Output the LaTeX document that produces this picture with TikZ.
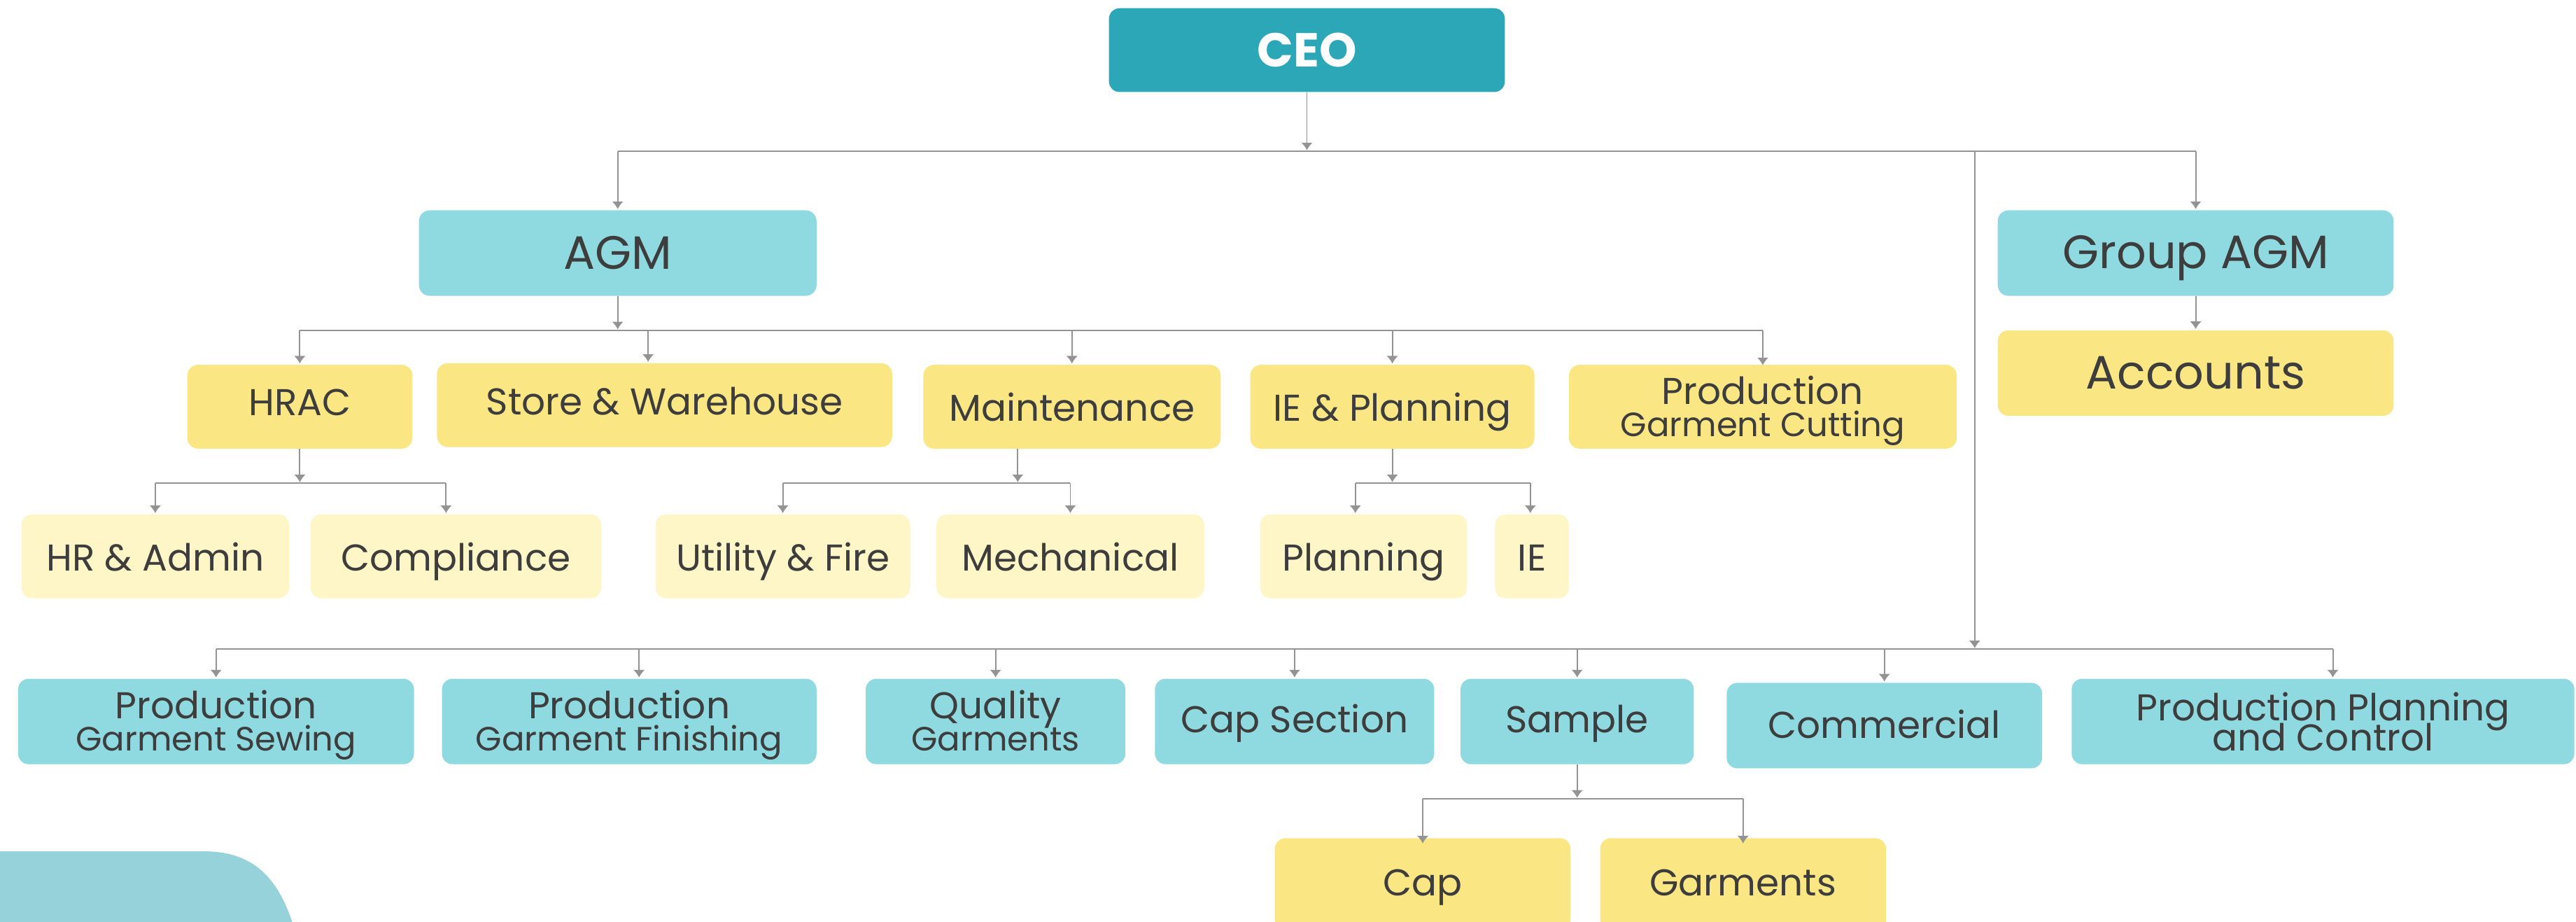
\documentclass[tikz,border=0pt]{standalone}
\usepackage{fontspec}
\setmainfont{Poppins}
\usetikzlibrary{arrows.meta}
\definecolor{ceoc}{HTML}{2CA7B7}
\definecolor{lteal}{HTML}{8FDAE0}
\definecolor{yel}{HTML}{FAE784}
\definecolor{pyel}{HTML}{FEF6C6}
\definecolor{deco}{HTML}{96D2D9}
\definecolor{txt}{HTML}{3D3D3D}
\definecolor{lnc}{HTML}{939393}
\begin{document}
\begin{tikzpicture}[x=1pt,y=-1pt,
  box/.style={rounded corners=6.5pt, inner sep=0pt, text=txt, align=center, font=\fontsize{22.7}{24}\selectfont},
  bl/.style={text height=#1, text depth=4pt},
  tl/.style={box, fill=lteal},
  yl/.style={box, fill=yel},
  py/.style={box, fill=pyel},
  big/.style={font=\fontsize{28.5}{30}\selectfont},
  lbl/.style={inner sep=0pt, text=txt, anchor=base, font=\fontsize{22.7}{24}\selectfont},
  sublbl/.style={lbl, font=\fontsize{20.5}{21}\selectfont},
  ln/.style={draw=lnc, line width=0.8pt},
  arr/.style={ln, -{Latex[length=4.6pt,width=7pt]}, shorten >=0.6pt}]
\useasboundingbox (0,0) rectangle (1568,561);
\fill[deco] (0,518) -- (124,518) .. controls (156,518) and (172,536) .. (181,572) -- (184,580) -- (0,580) -- cycle;

% nodes
\node[box, bl=24.2pt, fill=ceoc, text=white, font=\fontsize{29}{30}\selectfont\bfseries, minimum width=241pt, minimum height=51pt] (ceo) at (795.5,30.5) {CEO};
\node[tl, bl=24pt, big, minimum width=242pt, minimum height=52pt] (agm) at (376,154) {AGM};
\node[tl, bl=22.4pt, big, minimum width=241pt, minimum height=52pt] (gagm) at (1336.5,154) {Group AGM};
\node[yl, bl=23.4pt, big, minimum width=241pt, minimum height=52pt] (acc) at (1336.5,227) {Accounts};

\node[yl, bl=14.6pt, minimum width=137pt, minimum height=51pt] (hrac) at (182.5,247.5) {HRAC};
\node[yl, bl=16.2pt, minimum width=277pt, minimum height=51pt] (store) at (404.5,246.5) {Store \& Warehouse};
\node[yl, bl=21.8pt, minimum width=181pt, minimum height=51pt] (maint) at (652.5,247.5) {Maintenance};
\node[yl, bl=21.8pt, minimum width=173pt, minimum height=51pt] (iep) at (847.5,247.5) {IE \& Planning};
\node[yl, minimum width=236pt, minimum height=51pt] (pgc) at (1073,247.5) {};
\node[lbl] (pgcA) at ([yshift=1.5pt]pgc.center) {Production};
\node[sublbl] (pgcB) at ([yshift=-18.2pt]pgc.center) {Garment Cutting};

\node[py, bl=22pt, minimum width=163pt, minimum height=51pt] (hra) at (94.5,338.5) {HR \& Admin};
\node[py, bl=22pt, minimum width=177pt, minimum height=51pt] (comp) at (277.5,338.5) {Compliance};
\node[py, bl=22pt, minimum width=155pt, minimum height=51pt] (util) at (476.5,338.5) {Utility \& Fire};
\node[py, bl=22pt, minimum width=163pt, minimum height=51pt] (mech) at (651.5,338.5) {Mechanical};
\node[py, bl=22pt, minimum width=126pt, minimum height=51pt] (plan) at (830,338.5) {Planning};
\node[py, bl=22pt, minimum width=45pt, minimum height=51pt] (ie) at (932.5,338.5) {IE};

\node[tl, minimum width=241pt, minimum height=52pt] (pgs) at (131.5,439) {};
\node[lbl] (pgsA) at ([yshift=1.8pt]pgs.center) {Production};
\node[sublbl] (pgsB) at ([yshift=-18pt]pgs.center) {Garment Sewing};
\node[tl, minimum width=228pt, minimum height=52pt] (pgf) at (383,439) {};
\node[lbl] (pgfA) at ([yshift=1.8pt]pgf.center) {Production};
\node[sublbl] (pgfB) at ([yshift=-18pt]pgf.center) {Garment Finishing};
\node[tl, minimum width=158pt, minimum height=52pt] (qg) at (606,439) {};
\node[lbl] (qgA) at ([yshift=1.8pt]qg.center) {Quality};
\node[sublbl] (qgB) at ([yshift=-18pt]qg.center) {Garments};
\node[tl, bl=17.4pt, minimum width=170pt, minimum height=52pt] (caps) at (788,439) {Cap Section};
\node[tl, bl=17.4pt, minimum width=142pt, minimum height=52pt] (samp) at (960,439) {Sample};
\node[tl, bl=19pt, minimum width=192pt, minimum height=52pt] (comm) at (1147,441.5) {Commercial};
\node[tl, minimum width=306pt, minimum height=52pt] (ppc) at (1414,439) {};
\node[lbl] (ppcA) at ([yshift=0.4pt]ppc.center) {Production Planning};
\node[lbl] (ppcB) at ([yshift=-17.7pt]ppc.center) {and Control};

\node[yl, bl=18pt, minimum width=180pt, minimum height=56pt] (cap) at (866,538) {Cap};
\node[yl, bl=18pt, minimum width=174pt, minimum height=56pt] (garm) at (1061,538) {Garments};

% bus coordinates
\coordinate (b1) at (0,92);
\coordinate (b2) at (0,201);
\coordinate (b3) at (0,294);
\coordinate (b4) at (0,395);
\coordinate (b5) at (0,486);
\coordinate (vx) at (1202,0);

% CEO level
\draw[arr] (ceo.south) -- (ceo.south |- b1);
\draw[ln] (agm.north |- b1) -- (gagm.north |- b1);
\draw[arr] (agm.north |- b1) -- (agm.north);
\draw[arr] (gagm.north |- b1) -- (gagm.north);
\draw[arr] (vx |- b1) -- (vx |- b4);
\draw[arr] (gagm.south) -- (acc.north);

% AGM level
\draw[arr] (agm.south) -- (agm.south |- b2);
\draw[ln] (hrac.north |- b2) -- (pgc.north |- b2);
\draw[arr] (hrac.north |- b2) -- (hrac.north);
\draw[arr] ([xshift=-10pt]store.north |- b2) -- ([xshift=-10pt]store.north);
\draw[arr] (maint.north |- b2) -- (maint.north);
\draw[arr] (iep.north |- b2) -- (iep.north);
\draw[arr] (pgc.north |- b2) -- ([yshift=-1pt]pgc.north);

% HRAC
\draw[arr] (hrac.south) -- (hrac.south |- b3);
\draw[ln] (hra.north |- b3) -- ([xshift=-6pt]comp.north |- b3);
\draw[arr] (hra.north |- b3) -- (hra.north);
\draw[arr] ([xshift=-6pt]comp.north |- b3) -- ([xshift=-6pt]comp.north);
% Maintenance
\draw[arr] ([xshift=-33pt]maint.south) -- ([xshift=-33pt]maint.south |- b3);
\draw[ln] (util.north |- b3) -- (mech.north |- b3);
\draw[arr] (util.north |- b3) -- (util.north);
\draw[arr] (mech.north |- b3) -- (mech.north);
% IE & Planning
\draw[arr] (iep.south) -- (iep.south |- b3);
\draw[ln] ([xshift=-5pt]plan.north |- b3) -- ([xshift=-1pt]ie.north |- b3);
\draw[arr] ([xshift=-5pt]plan.north |- b3) -- ([xshift=-5pt]plan.north);
\draw[arr] ([xshift=-1pt]ie.north |- b3) -- ([xshift=-1pt]ie.north);

% lower bus
\draw[ln] (pgs.north |- b4) -- ([xshift=6pt]ppc.north |- b4);
\draw[arr] (pgs.north |- b4) -- (pgs.north);
\draw[arr] ([xshift=6pt]pgf.north |- b4) -- ([xshift=6pt]pgf.north);
\draw[arr] (qg.north |- b4) -- (qg.north);
\draw[arr] (caps.north |- b4) -- (caps.north);
\draw[arr] (samp.north |- b4) -- (samp.north);
\draw[arr] (comm.north |- b4) -- (comm.north);
\draw[arr] ([xshift=6pt]ppc.north |- b4) -- ([xshift=6pt]ppc.north);

% Sample
\draw[arr] (samp.south) -- (samp.south |- b5);
\draw[ln] (cap.north |- b5) -- (garm.north |- b5);
\draw[arr] (cap.north |- b5) -- ([yshift=-4pt]cap.north);
\draw[arr] (garm.north |- b5) -- ([yshift=-4pt]garm.north);
\end{tikzpicture}
\end{document}
